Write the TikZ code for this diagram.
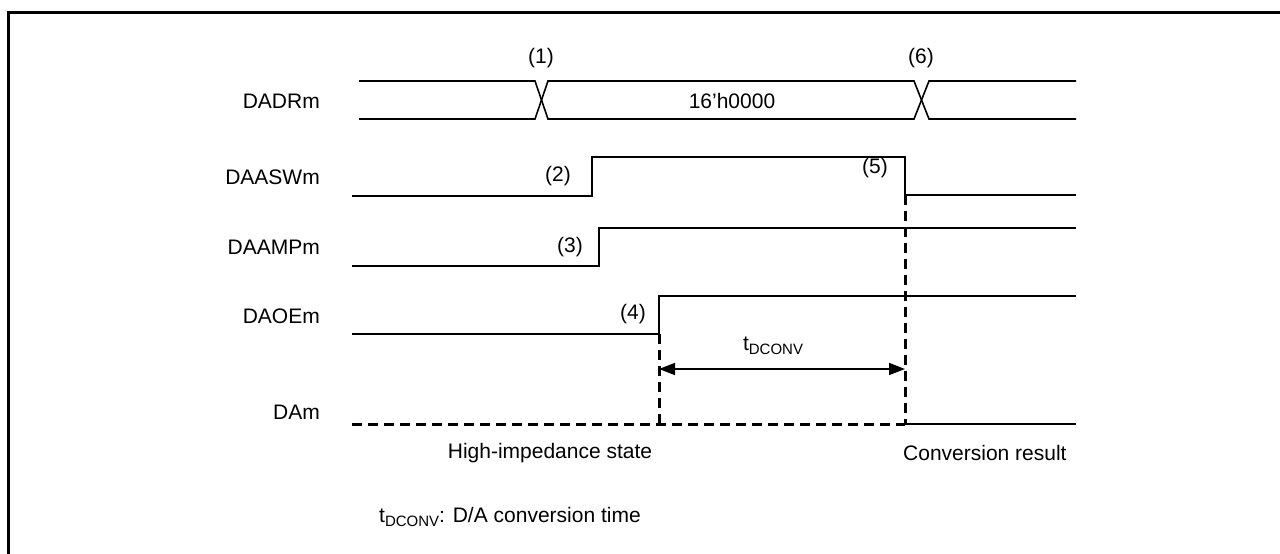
\documentclass[tikz,border=0pt]{standalone}
\usepackage{fontspec}
\setmainfont{Liberation Sans}
\usetikzlibrary{arrows.meta}
\newcommand{\tdconv}{t\raisebox{-0.35ex}{\fontsize{15}{15}\selectfont DCONV}}
\begin{document}
\begin{tikzpicture}[x=1pt,y=-1pt,
  sig/.style={line width=1.6pt, line join=miter},
  hiz/.style={line width=3pt, dash pattern=on 10pt off 6pt},
  lbl/.style={font=\fontsize{21}{25}\selectfont, inner sep=0pt},
  signame/.style={lbl, anchor=east},
  dim/.style={line width=1.6pt, {Triangle[length=16pt,width=12pt]}-{Triangle[length=16pt,width=12pt]}}]
\useasboundingbox (0,0) rectangle (1280,554);
% frame
\draw[line width=3pt] (8.5,554) -- (8.5,12) -- (1280,12);
% signal names
\node[signame] (nDADR) at (320,101) {DADRm};
\node[signame] (nDAASW) at (320,177) {DAASWm};
\node[signame] (nDAAMP) at (320,247) {DAAMPm};
\node[signame] (nDAOE) at (320,316) {DAOEm};
\node[signame] (nDA) at (320,412) {DAm};
% DADRm bus
\draw[sig] (359,81) -- (535,81) -- (548,119) -- (914,119) -- (929,81) -- (1076,81);
\draw[sig] (359,119) -- (535,119) -- (548,81) -- (914,81) -- (929,119) -- (1076,119);
\node[lbl] (val) at (732,101) {16'h0000};
\node[lbl] (e1) at (541,58) {(1)};
\node[lbl] (e6) at (921,58) {(6)};
% DAASWm
\coordinate (aswR) at (592,196);
\coordinate (aswF) at (905,195);
\draw[sig] (352,196) -- (aswR) -- (592,157) -- (905,157) -- (aswF) -- (1076,195);
\node[lbl] (e2) at (558,176) {(2)};
\node[lbl] (e5) at (875,168) {(5)};
% DAAMPm
\draw[sig] (352,266) -- (599,266) -- (599,228) -- (1076,228);
\node[lbl] (e3) at (570,247) {(3)};
% DAOEm
\coordinate (oeR) at (659,334);
\draw[sig] (352,334) -- (oeR) -- (659,296) -- (1076,296);
\node[lbl] (e4) at (633,314) {(4)};
% DAm
\coordinate (daS) at (352,424);
\coordinate (daA) at (659,424);
\coordinate (daB) at (905,424);
\coordinate (daE) at (1076,424);
\draw[hiz] (daS) -- (daB);
\draw[sig] (daB) -- (daE);
\draw[hiz] (oeR) -- (daA);
\draw[hiz] (aswF) -- (daB);
% conversion time
\coordinate (tA) at (659,369);
\coordinate (tB) at (905,369);
\draw[dim] (tA) -- (tB);
\node[lbl] (tlab) at (773,346) {\tdconv};
% state labels
\node[lbl] (hiz) at (550,453) {High-impedance state};
\node[lbl, anchor=west] (conv) at (903,453) {Conversion result};
% footnote
\node[lbl, anchor=west] (note) at (379,517) {\tdconv: D/A conversion time};
\end{tikzpicture}
\end{document}
